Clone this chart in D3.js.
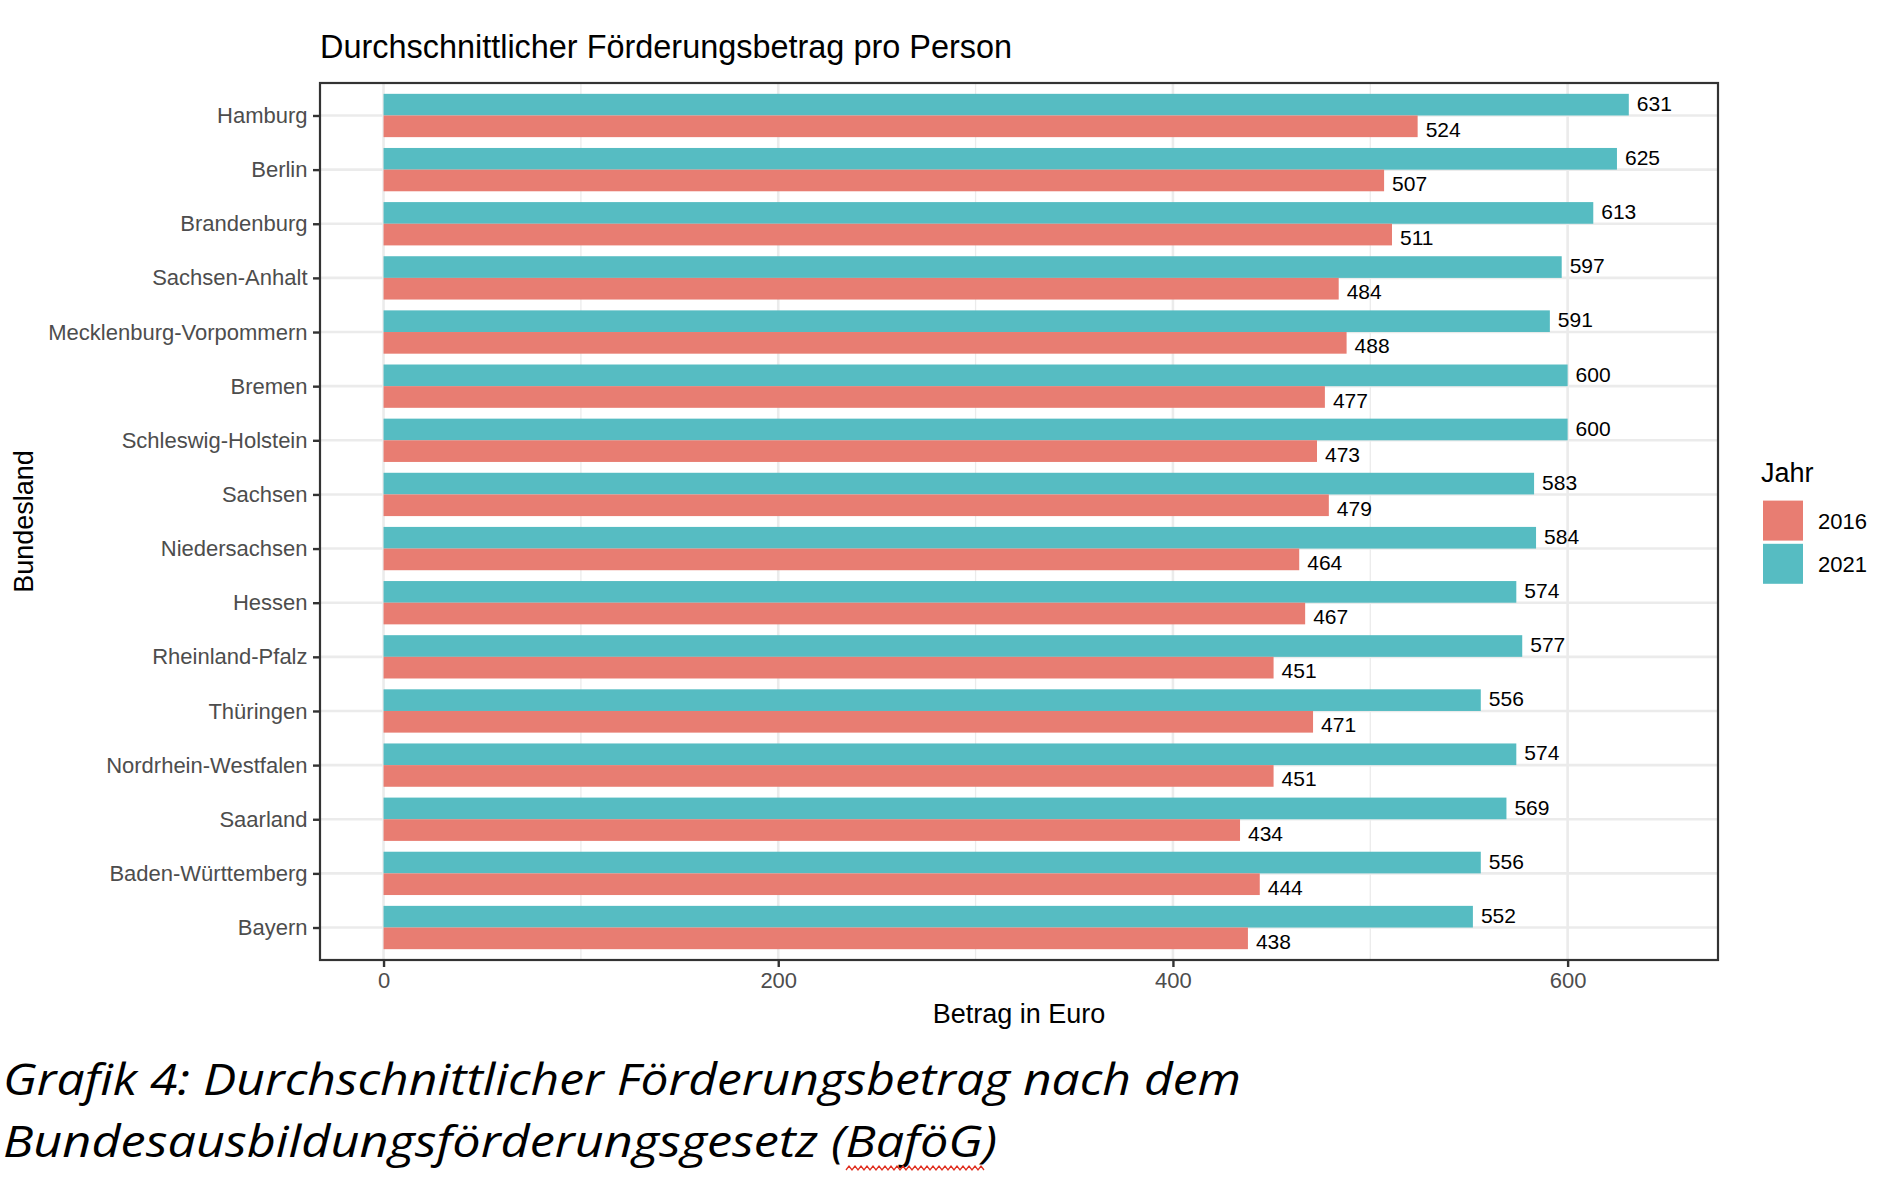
<!DOCTYPE html>
<html>
<head>
<meta charset="utf-8">
<script src="https://cdn.jsdelivr.net/npm/d3@7"></script>
<style>
  html, body { margin: 0; padding: 0; background: #ffffff; }
  svg { display: block; }
</style>
</head>
<body>
<svg id="chart" width="1896" height="1182"></svg>
<script>
// ---------- data ----------
const states = ["Hamburg","Berlin","Brandenburg","Sachsen-Anhalt","Mecklenburg-Vorpommern","Bremen",
  "Schleswig-Holstein","Sachsen","Niedersachsen","Hessen","Rheinland-Pfalz","Thüringen",
  "Nordrhein-Westfalen","Saarland","Baden-Württemberg","Bayern"];
const years = ["2016", "2021"];
const values2016 = [524,507,511,484,488,477,473,479,464,467,451,471,451,434,444,438];
const values2021 = [631,625,613,597,591,600,600,583,584,574,577,556,574,569,556,552];
const xTicks = [0, 200, 400, 600];
const xMinorTicks = [100, 300, 500];
const titleText = "Durchschnittlicher Förderungsbetrag pro Person";
const xTitle = "Betrag in Euro";
const yTitle = "Bundesland";
const legendTitle = "Jahr";
const captionLines = ["Grafik 4: Durchschnittlicher Förderungsbetrag nach dem",
                      "Bundesausbildungsförderungsgesetz (BaföG)"];

// ---------- layout ----------
const colors = { "2016": "#E87D72", "2021": "#56BCC2" };
const panel = { left: 320, right: 1718, top: 83, bottom: 960 };
const svg = d3.select("#chart");
svg.append("rect").attr("width", 1896).attr("height", 1182).attr("fill", "#fff");

const x = d3.scaleLinear().domain([-32.2, 676.2]).range([panel.left, panel.right]);
const y = d3.scalePoint().domain(states).range([panel.top, panel.bottom]).padding(0.6);
const step = y.step();
const barH = step * 0.4;

const font = "'Liberation Sans', Arial, Helvetica, sans-serif";

// grid
const g = svg.append("g");
g.selectAll("line.minor").data(xMinorTicks).join("line")
  .attr("x1", d => x(d)).attr("x2", d => x(d))
  .attr("y1", panel.top).attr("y2", panel.bottom)
  .attr("stroke", "#EBEBEB").attr("stroke-width", 1.3);
g.selectAll("line.majx").data(xTicks).join("line")
  .attr("x1", d => x(d)).attr("x2", d => x(d))
  .attr("y1", panel.top).attr("y2", panel.bottom)
  .attr("stroke", "#EBEBEB").attr("stroke-width", 2.6);
g.selectAll("line.majy").data(states).join("line")
  .attr("x1", panel.left).attr("x2", panel.right)
  .attr("y1", d => y(d)).attr("y2", d => y(d))
  .attr("stroke", "#EBEBEB").attr("stroke-width", 2.6);

// bars
const rows = states.map((s, i) => ({ state: s, v2016: values2016[i], v2021: values2021[i] }));
const bars = svg.append("g");
bars.selectAll("rect.b21").data(rows).join("rect")
  .attr("x", x(0)).attr("y", d => y(d.state) - barH)
  .attr("width", d => x(d.v2021) - x(0)).attr("height", barH)
  .attr("fill", colors["2021"]);
bars.selectAll("rect.b16").data(rows).join("rect")
  .attr("x", x(0)).attr("y", d => y(d.state))
  .attr("width", d => x(d.v2016) - x(0)).attr("height", barH)
  .attr("fill", colors["2016"]);

// value labels
const labels = svg.append("g").attr("font-family", font).attr("font-size", 21).attr("fill", "#000");
labels.selectAll("text.l21").data(rows).join("text")
  .attr("x", d => x(d.v2021) + 8).attr("y", d => y(d.state) - step * 0.225)
  .attr("dy", "0.36em").text(d => d.v2021);
labels.selectAll("text.l16").data(rows).join("text")
  .attr("x", d => x(d.v2016) + 8).attr("y", d => y(d.state) + step * 0.255)
  .attr("dy", "0.36em").text(d => d.v2016);

// panel border
svg.append("rect")
  .attr("x", panel.left).attr("y", panel.top)
  .attr("width", panel.right - panel.left).attr("height", panel.bottom - panel.top)
  .attr("fill", "none").attr("stroke", "#333333").attr("stroke-width", 2.2);

// axes
const yAxis = svg.append("g").attr("transform", `translate(${panel.left},0)`)
  .call(d3.axisLeft(y).tickSize(7).tickPadding(5.5));
const xAxis = svg.append("g").attr("transform", `translate(0,${panel.bottom})`)
  .call(d3.axisBottom(x).tickValues(xTicks).tickFormat(d3.format("d")).tickSize(7).tickPadding(5));
[yAxis, xAxis].forEach(a => {
  a.select(".domain").remove();
  a.selectAll(".tick line").attr("stroke", "#333333").attr("stroke-width", 2.4);
  a.selectAll(".tick text").attr("fill", "#4D4D4D").attr("font-size", 22).attr("font-family", font);
});

// titles
svg.append("text").attr("x", 320).attr("y", 58)
  .attr("font-family", font).attr("font-size", 32.5).attr("fill", "#000")
  .attr("textLength", 692).attr("lengthAdjust", "spacingAndGlyphs")
  .text(titleText);
svg.append("text").attr("x", (panel.left + panel.right) / 2).attr("y", 1023)
  .attr("text-anchor", "middle").attr("font-family", font).attr("font-size", 27).attr("fill", "#000")
  .text(xTitle);
svg.append("text").attr("transform", `translate(33,${(panel.top + panel.bottom) / 2}) rotate(-90)`)
  .attr("text-anchor", "middle").attr("font-family", font).attr("font-size", 27).attr("fill", "#000")
  .text(yTitle);

// legend
const leg = svg.append("g");
leg.append("text").attr("x", 1761).attr("y", 482)
  .attr("font-family", font).attr("font-size", 27).attr("fill", "#000").text(legendTitle);
years.forEach((yr, i) => {
  const top = 499 + i * 43.2;
  leg.append("rect").attr("x", 1763).attr("y", top + 1.6).attr("width", 40).attr("height", 40)
    .attr("fill", colors[yr]);
  leg.append("text").attr("x", 1818).attr("y", top + 21.6).attr("dy", "0.36em")
    .attr("font-family", font).attr("font-size", 22).attr("fill", "#000").text(yr);
});

// caption
const capFont = "'Open Sans', 'Noto Sans', sans-serif";
const capWidths = [1238, 994];
captionLines.forEach((line, i) => {
  svg.append("text").attr("x", 3).attr("y", 1095 + i * 62)
    .attr("font-family", capFont).attr("font-style", "italic").attr("font-size", 43)
    .attr("fill", "#000").attr("textLength", capWidths[i]).attr("lengthAdjust", "spacingAndGlyphs")
    .text(line);
});
// spell-check squiggle under "BaföG"
let sq = "M846,1170";
for (let xx = 846, k = 0; xx < 982; xx += 3, k++) sq += ` L${xx + 3},${k % 2 ? 1170 : 1166}`;
svg.append("path").attr("d", sq).attr("fill", "none").attr("stroke", "#E03020").attr("stroke-width", 1.3);
</script>
</body>
</html>
